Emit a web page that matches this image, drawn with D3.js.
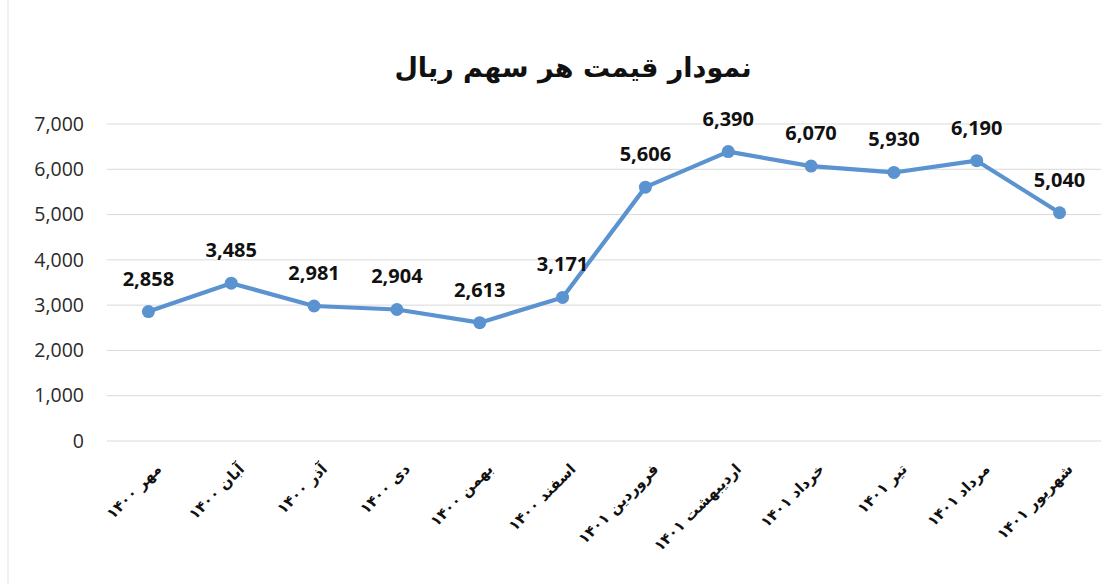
<!DOCTYPE html>
<html>
<head>
<meta charset="utf-8">
<script src="https://cdn.jsdelivr.net/npm/d3@7"></script>
<style>
  html, body { margin: 0; padding: 0; background: #fff; }
  svg { display: block; }
</style>
</head>
<body>
<svg id="chart" width="1118" height="584"></svg>
<script>
const categories = [
  "مهر ۱۴۰۰", "آبان ۱۴۰۰", "آذر ۱۴۰۰", "دی ۱۴۰۰", "بهمن ۱۴۰۰", "اسفند ۱۴۰۰",
  "فروردین ۱۴۰۱", "اردیبهشت ۱۴۰۱", "خرداد ۱۴۰۱", "تیر ۱۴۰۱", "مرداد ۱۴۰۱", "شهریور ۱۴۰۱"
];
const prices = [2858, 3485, 2981, 2904, 2613, 3171, 5606, 6390, 6070, 5930, 6190, 5040];
const yTicks = [0, 1000, 2000, 3000, 4000, 5000, 6000, 7000];
const title = "نمودار قیمت هر سهم ریال";

const svg = d3.select("#chart");
const W = 1118, H = 584;
const plot = { left: 107, right: 1101, top: 124, bottom: 441 };
const lineColor = "#5b93d0";

// page edge line
svg.append("line").attr("x1", 8).attr("x2", 8).attr("y1", 0).attr("y2", H)
  .attr("stroke", "#e4e4e4").attr("stroke-width", 1);

const x = d3.scaleBand().domain(categories).range([plot.left, plot.right]).padding(0);
const y = d3.scaleLinear().domain([0, 7000]).range([plot.bottom, plot.top]);

// gridlines
svg.append("g").selectAll("line").data(yTicks).join("line")
  .attr("x1", plot.left).attr("x2", plot.right)
  .attr("y1", d => y(d)).attr("y2", d => y(d))
  .attr("stroke", "#d9d9d9").attr("stroke-width", 1);

// y axis
const yAxis = d3.axisLeft(y).tickValues(yTicks).tickFormat(d3.format(",")).tickSize(0).tickPadding(23);
const yg = svg.append("g").attr("transform", `translate(${plot.left},0)`).call(yAxis);
yg.select(".domain").remove();
yg.selectAll("text").attr("font-family", "'Open Sans', sans-serif").attr("font-size", 19.5).attr("fill", "#2a2a2a");

// x axis labels (rotated)
const xAxis = d3.axisBottom(x).tickSize(0).tickPadding(0);
const xg = svg.append("g").attr("transform", `translate(0,${plot.bottom})`).call(xAxis);
xg.select(".domain").remove();
xg.selectAll("text")
  .attr("font-family", "'DejaVu Sans', sans-serif")
  .attr("font-size", 15)
  .attr("font-weight", "bold")
  .attr("fill", "#111")
  .attr("text-anchor", "end")
  .attr("dy", 0)
  .attr("transform", "translate(14,29) rotate(-45)");

// line
const cx = d => x(d) + x.bandwidth() / 2;
const line = d3.line().x((d, i) => cx(categories[i])).y(d => y(d));
svg.append("path").datum(prices)
  .attr("d", line).attr("fill", "none")
  .attr("stroke", lineColor).attr("stroke-width", 4.2)
  .attr("stroke-linejoin", "round");

// markers
svg.append("g").selectAll("circle").data(prices).join("circle")
  .attr("cx", (d, i) => cx(categories[i])).attr("cy", d => y(d))
  .attr("r", 6.5).attr("fill", lineColor);

// data labels
svg.append("g").selectAll("text").data(prices).join("text")
  .attr("x", (d, i) => cx(categories[i])).attr("y", d => y(d) - 26)
  .attr("text-anchor", "middle")
  .attr("font-family", "'Open Sans', sans-serif")
  .attr("font-weight", "bold").attr("font-size", 20).attr("fill", "#111")
  .text(d => d3.format(",")(d));

// title
svg.append("text").attr("x", 573).attr("y", 77)
  .attr("text-anchor", "middle")
  .attr("font-family", "'DejaVu Sans', sans-serif")
  .attr("font-weight", "bold").attr("font-size", 27).attr("fill", "#111")
  .text(title);
</script>
</body>
</html>
